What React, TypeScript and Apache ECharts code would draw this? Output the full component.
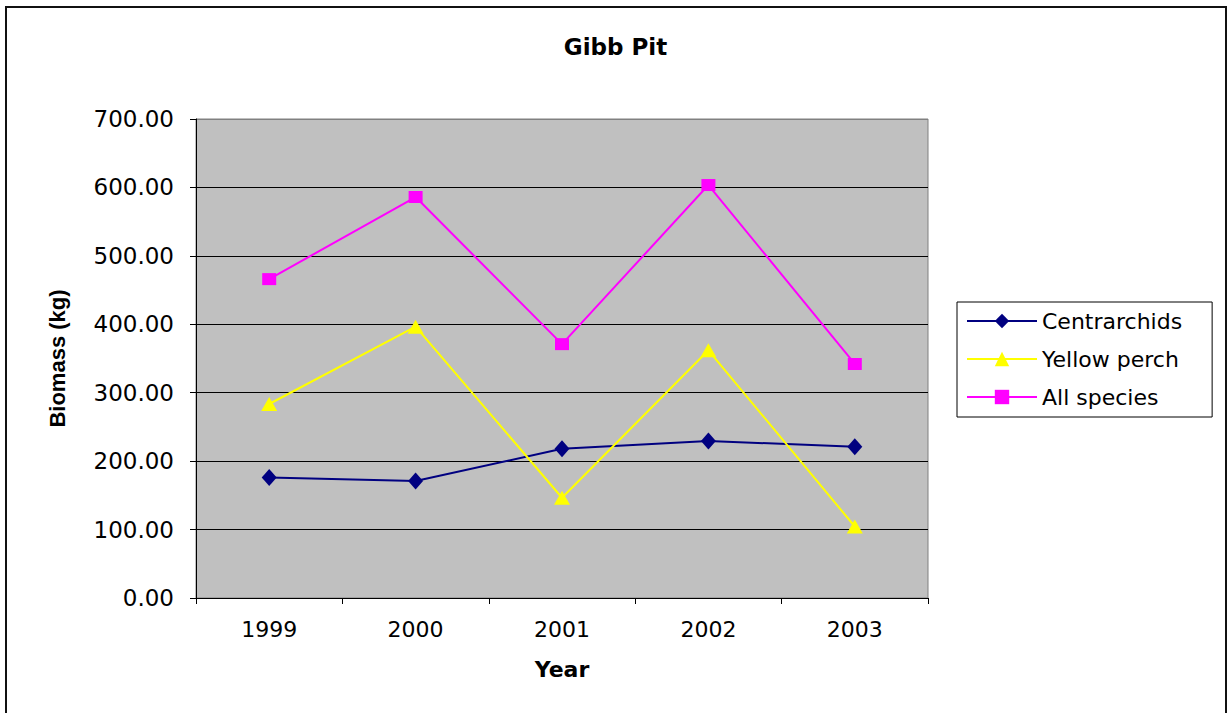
import React, { useEffect, useRef } from "react";
import * as echarts from "echarts";

const years = ["1999", "2000", "2001", "2002", "2003"];
const centrarchids = [176, 171, 218, 229.5, 221];
const yellowPerch = [283.5, 396.5, 146.5, 362, 104.5];
const allSpecies = [466, 586, 371, 603.5, 342];
const yTicks = { min: 0, max: 700, interval: 100 };

const FONT = "DejaVu Sans";

export default function App() {
  const ref = useRef<HTMLDivElement>(null);
  useEffect(() => {
    if (!ref.current) return;
    const chart = echarts.init(ref.current, null, { renderer: "svg" });
    const splitColors = [];
    for (let v = yTicks.min; v <= yTicks.max; v += yTicks.interval) {
      splitColors.push(v === yTicks.max ? "#808080" : "#000000");
    }
    chart.setOption({
      animation: false,
      backgroundColor: "#ffffff",
      textStyle: { fontFamily: FONT },
      title: {
        text: "Gibb Pit",
        left: "center",
        top: 30,
        textStyle: { fontFamily: FONT, fontWeight: "bold", fontSize: 23, color: "#000" },
      },
      graphic: [
        {
          type: "rect",
          shape: { x: 6, y: 7, width: 1220, height: 720 },
          style: { fill: "none", stroke: "#111", lineWidth: 2 },
          silent: true,
        },
      ],
      grid: {
        left: 196,
        top: 119,
        right: 303,
        bottom: 115,
        show: true,
        backgroundColor: "#C0C0C0",
        borderColor: "#808080",
        borderWidth: 1,
      },
      legend: {
        orient: "vertical",
        left: 957,
        top: 302,
        padding: [8, 30, 9, 9],
        itemWidth: 70,
        itemHeight: 18,
        itemGap: 16,
        borderColor: "#000",
        borderWidth: 1,
        textStyle: { fontFamily: FONT, fontSize: 22, color: "#000" },
        data: ["Centrarchids", "Yellow perch", "All species"],
      },
      xAxis: {
        type: "category",
        data: years,
        boundaryGap: true,
        name: "Year",
        nameLocation: "middle",
        nameGap: 60,
        nameTextStyle: { fontFamily: FONT, fontWeight: "bold", fontSize: 22, color: "#000" },
        axisLine: { show: true, lineStyle: { color: "#000", width: 1 } },
        axisTick: { show: true, length: 6, alignWithLabel: false, lineStyle: { color: "#000" } },
        axisLabel: { fontFamily: FONT, fontSize: 22, color: "#000", margin: 20 },
        splitLine: { show: false },
      },
      yAxis: {
        type: "value",
        min: yTicks.min,
        max: yTicks.max,
        interval: yTicks.interval,
        name: "Biomass (kg)",
        nameLocation: "middle",
        nameRotate: 90,
        nameGap: 128,
        nameTextStyle: { fontFamily: "Liberation Sans", fontWeight: "bold", fontSize: 22, color: "#000" },
        axisLine: { show: true, lineStyle: { color: "#000", width: 1 } },
        axisTick: { show: true, length: 6, lineStyle: { color: "#000" } },
        axisLabel: {
          fontFamily: FONT,
          fontSize: 23,
          color: "#000",
          margin: 22,
          formatter: (v: number) => v.toFixed(2),
        },
        splitLine: { show: true, lineStyle: { color: splitColors, width: 1 } },
      },
      series: [
        {
          name: "Centrarchids",
          type: "line",
          data: centrarchids,
          symbol: "diamond",
          symbolSize: [15, 17],
          itemStyle: { color: "#000080" },
          lineStyle: { color: "#000080", width: 2 },
        },
        {
          name: "Yellow perch",
          type: "line",
          data: yellowPerch,
          symbol: "triangle",
          symbolSize: [16, 14],
          itemStyle: { color: "#FFFF00" },
          lineStyle: { color: "#FFFF00", width: 2 },
        },
        {
          name: "All species",
          type: "line",
          data: allSpecies,
          symbol: "rect",
          symbolSize: [14, 12],
          itemStyle: { color: "#FF00FF" },
          lineStyle: { color: "#FF00FF", width: 2 },
        },
      ],
    });
    return () => chart.dispose();
  }, []);
  return (
    <div
      ref={ref}
      style={{ position: "absolute", left: 0, top: 0, width: 1231, height: 713 }}
    />
  );
}
